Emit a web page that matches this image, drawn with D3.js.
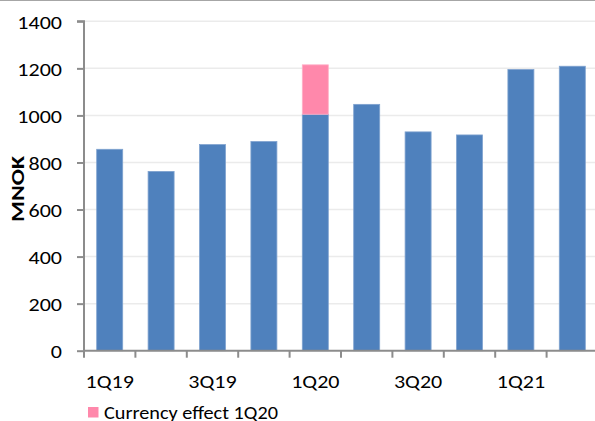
<!DOCTYPE html>
<html><head><meta charset="utf-8">
<script src="https://cdn.jsdelivr.net/npm/d3@7"></script>
<style>body{margin:0;background:#fff}svg{display:block}</style>
</head><body>
<script>
const categories = ["1Q19","2Q19","3Q19","4Q19","1Q20","2Q20","3Q20","4Q20","1Q21","2Q21"];
const baseValues = [856, 762, 876, 889, 1005, 1047, 930, 917, 1195, 1209];
const currencyEffect = [0, 0, 0, 0, 210, 0, 0, 0, 0, 0];
const yTicks = [0, 200, 400, 600, 800, 1000, 1200, 1400];
const xLabelCats = ["1Q19","3Q19","1Q20","3Q20","1Q21"];
const legendLabel = "Currency effect 1Q20";
const yTitle = "MNOK";

const W = 595, H = 421;
const font = "Carlito, Calibri, Lato, sans-serif";
const FS = 19, SX = 1.16;
const svg = d3.select("body").append("svg").attr("width", W).attr("height", H);

// top border line
svg.append("line").attr("x1",0).attr("x2",W).attr("y1",0.5).attr("y2",0.5)
  .attr("stroke","#a6a6a6").attr("stroke-width",1);

const x = d3.scaleBand().domain(categories).range([84, 598]).paddingInner(0.494).paddingOuter(0.247);
const y = d3.scaleLinear().domain([0, 1400]).range([350.7, 21.3]);

// gridlines
svg.append("g").selectAll("line").data(yTicks.filter(d => d > 0)).join("line")
  .attr("x1", 84).attr("x2", W).attr("y1", d => y(d)).attr("y2", d => y(d))
  .attr("stroke", "#ebebeb").attr("stroke-width", 1.5);

// bars
svg.append("g").selectAll("rect").data(categories).join("rect")
  .attr("x", d => x(d)).attr("width", x.bandwidth())
  .attr("y", (d,i) => y(baseValues[i])).attr("height", (d,i) => y(0) - y(baseValues[i]))
  .attr("fill", "#4f81bd").attr("stroke","#7fa2cf").attr("stroke-width",0.8);
svg.append("g").selectAll("rect").data(categories.filter((d,i)=>currencyEffect[i]>0)).join("rect")
  .attr("x", d => x(d)).attr("width", x.bandwidth())
  .attr("y", d => { const i = categories.indexOf(d); return y(baseValues[i] + currencyEffect[i]); })
  .attr("height", d => { const i = categories.indexOf(d); return y(baseValues[i]) - y(baseValues[i] + currencyEffect[i]); })
  .attr("fill", "#ff88ab").attr("stroke","#ffb0c8").attr("stroke-width",0.8);

// y axis
const yAxis = d3.axisLeft(y).tickValues(yTicks).tickSize(7).tickPadding(15).tickFormat(d3.format("d"));
const gy = svg.append("g").attr("transform", "translate(84,0)").call(yAxis);
gy.select(".domain").attr("stroke", "#8c8c8c").attr("stroke-width", 2).attr("d", `M-7,${y(1400)}H0V${y(0)}`);
gy.selectAll(".tick line").attr("stroke", "#8c8c8c").attr("stroke-width", 2);
gy.selectAll(".tick text").attr("font-family", font).attr("font-size", FS).attr("fill", "#000")
  .attr("x", 0).attr("dy", null).attr("y", 0).attr("transform", `translate(-22,7) scale(${SX},1)`);

// x axis
const gx = svg.append("g").attr("transform", `translate(0,${y(0)})`);
gx.append("line").attr("x1", 84).attr("x2", W).attr("y1",0).attr("y2",0).attr("stroke","#8c8c8c").attr("stroke-width",2);
const step = x.step();
const tickXs = d3.range(categories.length + 1).map(i => x.range()[0] + i * step);
gx.selectAll("line.t").data(tickXs).join("line").attr("class","t")
  .attr("x1", d => d).attr("x2", d => d).attr("y1", 0).attr("y2", 7)
  .attr("stroke","#8c8c8c").attr("stroke-width",2);
gx.selectAll("text").data(xLabelCats).join("text")
  .attr("transform", d => `translate(${x(d) + x.bandwidth()/2},37) scale(${SX},1)`)
  .attr("text-anchor","middle").attr("font-family", font).attr("font-size", FS).attr("fill","#000")
  .text(d => d);

// y title
svg.append("text").attr("transform", "translate(24,189) rotate(-90) scale(1.37,1)")
  .attr("text-anchor","middle").attr("font-family", font).attr("font-weight","bold")
  .attr("font-size", 17.5).attr("fill","#000").text(yTitle);

// legend
svg.append("rect").attr("x", 88).attr("y", 407).attr("width", 10.5).attr("height", 10.5).attr("fill", "#ff88ab");
svg.append("text").attr("transform", `translate(104,418.5) scale(1.067,1)`).attr("font-family", font).attr("font-size", FS)
  .attr("fill","#000").text(legendLabel);
</script>
</body></html>
